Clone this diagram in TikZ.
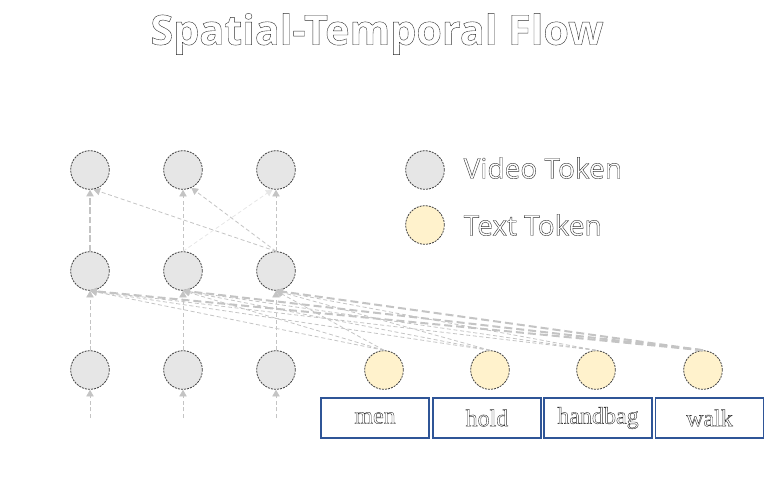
\documentclass[tikz,border=0pt]{standalone}
\usepackage{fontspec}
\setmainfont{Liberation Serif}
\newfontfamily\headfont{Open Sans}
\usetikzlibrary{arrows.meta}
\definecolor{vidfill}{HTML}{E6E6E6}
\definecolor{txtfill}{HTML}{FFF2CC}
\definecolor{rimgray}{HTML}{404040}
\definecolor{flowgray}{HTML}{C4C4C4}
\definecolor{boxblue}{HTML}{2F5597}
% white letters with a dark rim
\newcommand\hollow[1]{\special{pdf:literal direct 0.2 0.2 0.2 RG 0.3 w 2 Tr}#1\special{pdf:literal direct 0 Tr}}

\begin{document}
\begin{tikzpicture}[x=0.75pt,y=-0.75pt,>={Triangle[width=5.5pt,length=5pt]},
  vtok/.style={circle,minimum size=29pt,inner sep=0pt,fill=vidfill,draw=rimgray,
    line width=0.6pt,dash pattern=on 1.5pt off 0.8pt},
  ttok/.style={vtok,fill=txtfill},
  flow/.style={->,color=flowgray,line width=0.6pt,dash pattern=on 3pt off 2pt},
  heavyflow/.style={flow,line width=1.5pt,dash pattern=on 6pt off 3pt},
  wordbox/.style={draw=boxblue,line width=0.9pt,minimum width=81pt,minimum height=30pt,
    inner sep=0pt,text=white,font=\fontsize{18}{20}\selectfont}]
  \useasboundingbox (0,0) rectangle (768,480);
  \node[text=white,font=\headfont\bfseries\fontsize{31}{34}\selectfont] (title) at (377,34) {\hollow{Spatial-Temporal Flow}};
  % video tokens
  \node[vtok] (b1) at (90,370) {};
  \node[vtok] (b2) at (183,370) {};
  \node[vtok] (b3) at (276,370) {};
  \node[vtok] (m1) at (90,271) {};
  \node[vtok] (m2) at (183,271) {};
  \node[vtok] (m3) at (276,271) {};
  \node[vtok] (u1) at (90,170) {};
  \node[vtok] (u2) at (183,170) {};
  \node[vtok] (u3) at (276,170) {};
  % text tokens and words
  \node[ttok] (tmen) at (384,370) {};
  \node[ttok] (thold) at (490,370) {};
  \node[ttok] (tbag) at (596,370) {};
  \node[ttok] (twalk) at (703,370) {};
  \node[wordbox] (wmen) at (375,418) {\hollow{men}};
  \node[wordbox] (whold) at (487,418) {\hollow{hold}};
  \node[wordbox] (wbag) at (598,418) {\hollow{handbag}};
  \node[wordbox] (wwalk) at (709.5,418) {\hollow{walk}};
  % legend
  \node[vtok] (lgvid) at (425,170) {};
  \node[ttok] (lgtxt) at (425,225) {};
  \node[anchor=west,text=white,font=\headfont\fontsize{21}{24}\selectfont] (lgvidlbl) at (459,168) {\hollow{Video Token}};
  \node[anchor=west,text=white,font=\headfont\fontsize{21}{24}\selectfont] (lgtxtlbl) at (459,225) {\hollow{Text Token}};
  % inputs
  \coordinate (in1) at (90,418);
  \coordinate (in2) at (183,418);
  \coordinate (in3) at (276,418);
  \path[flow] (in1) edge (b1) (in2) edge (b2) (in3) edge (b3)
    (b1) edge (m1) (b2) edge (m2) (b3) edge (m3)
    (m2.north) edge (u2.south) (m3.north) edge (u3.south)
    (m3.north) edge (u1.-80) (m3.north) edge (u2.-65)
    (m2.north) edge[color=vidfill] (u3.-100);
  \path[flow,dash pattern=on 5pt off 2pt,line width=0.9pt] (m1) edge (u1);
  % text to video
  \path[flow] (tmen.north) edge (m1.south) (tmen.north) edge (m2.south) (tmen.north) edge (m3.south)
    (thold.north) edge (m1.south) (thold.north) edge (m2.south) (thold.north) edge (m3.south)
    (tbag.north) edge (m1.south) (tbag.north) edge (m2.south) (tbag.north) edge (m3.south);
  \path[heavyflow] (twalk.north) edge (m1.south) (twalk.north) edge (m2.south) (twalk.north) edge (m3.south);
\end{tikzpicture}
\end{document}
